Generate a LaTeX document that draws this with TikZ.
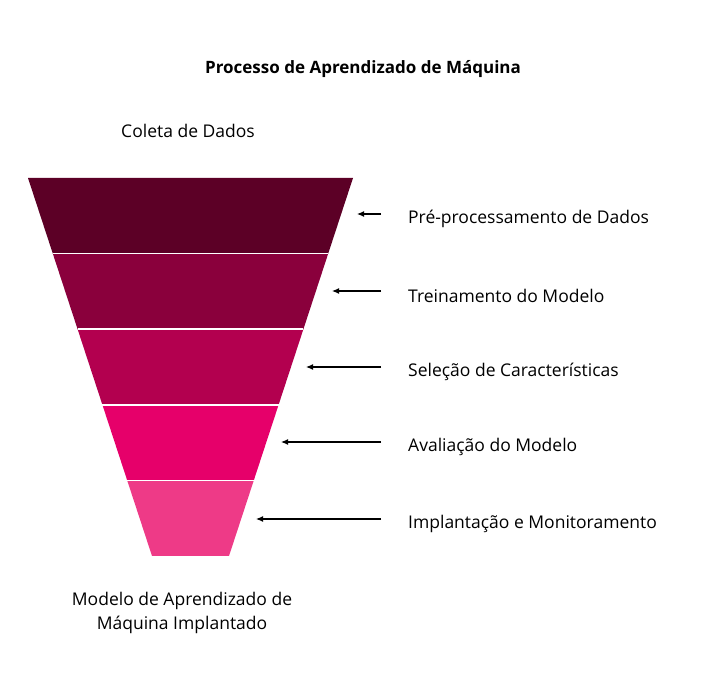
\documentclass[tikz,border=0pt]{standalone}
\usepackage{fontspec}
\setmainfont{Open Sans}
\usetikzlibrary{arrows.meta}
\definecolor{c1}{HTML}{5C0026}
\definecolor{c2}{HTML}{8A003C}
\definecolor{c3}{HTML}{B3004F}
\definecolor{c4}{HTML}{E6006A}
\definecolor{c5}{HTML}{EE3A87}
\begin{document}
\begin{tikzpicture}[x=1pt,y=-1pt,
  lbl/.style={font=\fontsize{17.5}{20}\selectfont,anchor=west,inner sep=0},
  txt/.style={font=\fontsize{17.5}{20}\selectfont,align=center,inner sep=0},
  arr/.style={-{Latex[length=7pt,width=6pt]},line width=1.2pt}]
\useasboundingbox (0,0) rectangle (724,684);
\node[txt,font=\fontsize{17}{20}\selectfont\bfseries] (title) at (363,69) {Processo de Aprendizado de Máquina};
\node[txt] (top) at (188,131) {Coleta de Dados};
\node[txt] (bot) at (182,613) {Modelo de Aprendizado de\\[4pt]Máquina Implantado};
\foreach \i/\c in {0/c1,1/c2,2/c3,3/c4,4/c5}{
  \pgfmathsetmacro{\ya}{178+75.6*\i}
  \pgfmathsetmacro{\yb}{178+75.6*(\i+1)}
  \pgfmathsetmacro{\ha}{162.5-24.8*\i}
  \pgfmathsetmacro{\hb}{162.5-24.8*(\i+1)}
  \fill[\c] (190.5-\ha,\ya) -- (190.5+\ha,\ya) -- (190.5+\hb,\yb) -- (190.5-\hb,\yb) -- cycle;
}
\foreach \i in {1,2,3,4}{
  \pgfmathsetmacro{\ya}{178+75.6*\i}
  \pgfmathsetmacro{\ha}{162.5-24.8*\i}
  \draw[white,line width=1.5pt] (190.5-\ha,\ya) -- (190.5+\ha,\ya);
}
\foreach \n/\y/\tip/\t in {a/214/357/Pré-processamento de Dados,b/291/332/Treinamento do Modelo,c/367/306/Seleção de Características,d/442/281/Avaliação do Modelo,e/519/256/Implantação e Monitoramento}{
  \node[lbl] (l\n) at (408,\y+5) {\t};
  \coordinate (s\n) at (381,\y);
  \coordinate (t\n) at (\tip,\y);
  \draw[arr] (s\n) -- (t\n);
}
\end{tikzpicture}
\end{document}
